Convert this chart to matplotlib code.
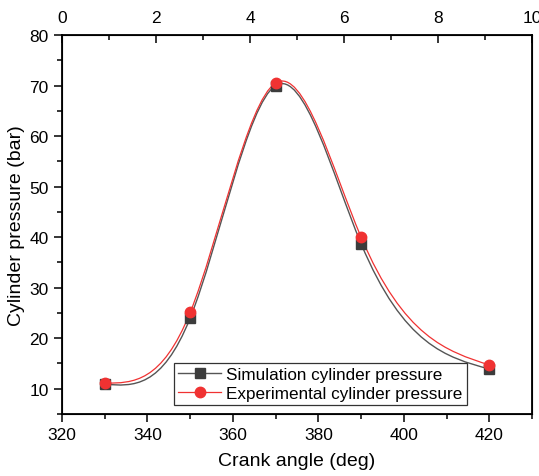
import numpy as np
import matplotlib
matplotlib.use("Agg")
import matplotlib.pyplot as plt
from matplotlib.path import Path
from matplotlib.patches import PathPatch
from matplotlib.lines import Line2D
from matplotlib.ticker import MultipleLocator

plt.rcParams['font.family'] = ['Liberation Sans', 'DejaVu Sans']

crank_angle = [330, 350, 370, 390, 420]
sim_pressure = [10.9, 24.0, 70.0, 38.7, 13.9]
exp_pressure = [11.1, 25.1, 70.5, 40.0, 14.7]

sim_color = '#3c3c3c'
exp_color = '#f03232'


def spline_path(x, y):
    # natural cubic spline written as bezier segments (like Origin's spline connect)
    x = np.asarray(x, float)
    y = np.asarray(y, float)
    n = len(x)
    h = np.diff(x)
    A = np.zeros((n, n))
    r = np.zeros(n)
    A[0, 0] = 1
    A[-1, -1] = 1
    for i in range(1, n - 1):
        A[i, i - 1] = h[i - 1]
        A[i, i] = 2 * (h[i - 1] + h[i])
        A[i, i + 1] = h[i]
        r[i] = 6 * ((y[i + 1] - y[i]) / h[i] - (y[i] - y[i - 1]) / h[i - 1])
    M = np.linalg.solve(A, r)
    verts = [(x[0], y[0])]
    codes = [Path.MOVETO]
    for i in range(n - 1):
        s = (y[i + 1] - y[i]) / h[i]
        d0 = s - h[i] * (2 * M[i] + M[i + 1]) / 6
        d1 = s + h[i] * (M[i] + 2 * M[i + 1]) / 6
        verts += [(x[i] + h[i] / 3, y[i] + d0 * h[i] / 3),
                  (x[i + 1] - h[i] / 3, y[i + 1] - d1 * h[i] / 3),
                  (x[i + 1], y[i + 1])]
        codes += [Path.CURVE4] * 3
    return Path(verts, codes)


fig = plt.figure(figsize=(5.39, 4.77), dpi=100)
ax = fig.add_axes([62 / 539, 1 - 415 / 477, 470 / 539, 379 / 477])

ax.add_patch(PathPatch(spline_path(crank_angle, sim_pressure), fill=False,
                       edgecolor='#555555', lw=1.0, zorder=2))
ax.add_patch(PathPatch(spline_path(crank_angle, exp_pressure), fill=False,
                       edgecolor=exp_color, lw=0.9, zorder=3))
ax.plot(crank_angle, sim_pressure, 's', color=sim_color, ms=6.5, zorder=4)
ax.plot(crank_angle, exp_pressure, 'o', color=exp_color, ms=7.5, zorder=5)

ax.set_xlim(320, 430)
ax.set_ylim(5, 80)
ax.xaxis.set_major_locator(MultipleLocator(20))
ax.xaxis.set_minor_locator(MultipleLocator(10))
ax.yaxis.set_major_locator(MultipleLocator(10))
ax.yaxis.set_minor_locator(MultipleLocator(5))
ax.tick_params(which='both', direction='out', width=1.1, labelsize=12.5, right=False, top=False)
ax.tick_params(which='major', length=6)
ax.tick_params(which='minor', length=3.5)
for sp in ax.spines.values():
    sp.set_linewidth(1.3)

ax.set_xlabel('Crank angle (deg)', fontsize=14, labelpad=7)
ax.set_ylabel('Cylinder pressure (bar)', fontsize=14, labelpad=3)

top = ax.twiny()
top.set_xlim(0, 10)
top.xaxis.set_major_locator(MultipleLocator(2))
top.xaxis.set_minor_locator(MultipleLocator(1))
top.tick_params(which='both', direction='in', width=1.1, labelsize=12.5, pad=7)
top.tick_params(which='major', length=6)
top.tick_params(which='minor', length=3.5)

handles = [
    Line2D([], [], color='#555555', lw=1.0, marker='s', ms=6.5,
           markerfacecolor=sim_color, markeredgecolor=sim_color),
    Line2D([], [], color=exp_color, lw=0.9, marker='o', ms=7.5,
           markerfacecolor=exp_color, markeredgecolor=exp_color),
]
leg = ax.legend(handles, ['Simulation cylinder pressure', 'Experimental cylinder pressure'],
                loc='lower left', bbox_to_anchor=(174 / 539, 1 - 406 / 477),
                bbox_transform=fig.transFigure, fontsize=12.3, frameon=True,
                fancybox=False, edgecolor='#333333', framealpha=1,
                handlelength=2.5, borderpad=0.25, labelspacing=0.2,
                handletextpad=0.3, borderaxespad=0)
leg.get_frame().set_linewidth(0.9)

fig.savefig('out.png', dpi=100)
